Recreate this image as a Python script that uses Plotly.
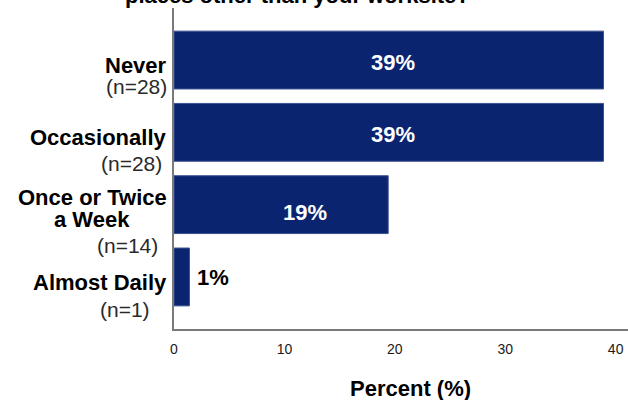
import plotly.graph_objects as go

# ---- data ----
categories = ["Never", "Occasionally", "Once or Twice<br>a Week", "Almost Daily"]
counts = [28, 28, 14, 1]
percents = [38.9, 38.9, 19.4, 1.4]
pct_labels = ["39%", "39%", "19%", "1%"]
x_ticks = [0, 10, 20, 30, 40]
title_text = "places other than your worksite?"
x_title = "Percent (%)"

# ---- style / layout helpers (pixel offsets for label lines) ----
BAR_COLOR = "#0b2470"
FONT = "Liberation Sans, Arial, sans-serif"
L, R, T, B = 174, 0, 8, 71
# per category: list of (x_center_px_from_left_edge, y_offset_px_from_bar_center) per line
line_pos = [
    [(135.5, 4.2), (136.5, 25.5)],
    [(98.3, 3.9), (131.7, 30.0)],
    [(92.0, -7.9), (91.7, 14.2), (127.0, 39.9)],
    [(100.0, 4.4), (125.0, 31.4)],
]
# value label shifts (dx, dy) relative to bar middle; last one placed outside
val_shift = [(4, 1), (4, 1), (24, 7), None]

idx = list(range(len(categories)))

fig = go.Figure()
fig.add_trace(go.Bar(
    x=percents, y=idx, orientation="h",
    marker=dict(color=BAR_COLOR, line=dict(color="#3d5192", width=1)),
    width=0.8, hoverinfo="skip",
))

annotations = []
for i, cat in enumerate(categories):
    lines = [f"<b>{t}</b>" for t in cat.split("<br>")] + [f"(n={counts[i]})"]
    for j, txt in enumerate(lines):
        cx, dy = line_pos[i][j]
        bold = txt.startswith("<b>")
        annotations.append(dict(
            text=txt, xref="x", x=0, yref="y", y=i,
            xanchor="center", yanchor="middle",
            xshift=cx - L, yshift=-dy - 1,
            showarrow=False,
            font=dict(family=FONT, size=22 if bold else 21,
                      color="#000000" if bold else "#2a2a2a"),
        ))
    s = val_shift[i]
    if s is not None:
        annotations.append(dict(
            text=f"<b>{pct_labels[i]}</b>", xref="x", x=percents[i] / 2,
            yref="y", y=i, xanchor="center", yanchor="middle",
            xshift=s[0], yshift=-s[1] - 1, showarrow=False,
            font=dict(family=FONT, size=22, color="white"),
        ))
    else:
        annotations.append(dict(
            text=f"<b>{pct_labels[i]}</b>", xref="x", x=percents[i],
            yref="y", y=i, xanchor="left", yanchor="middle",
            xshift=6, yshift=-1, showarrow=False,
            font=dict(family=FONT, size=22, color="black"),
        ))

# clipped title (only the lower part visible, as in the reference)
annotations.append(dict(
    text=f"<b>{title_text}</b>", xref="x", x=0, xshift=297.5 - L,
    yref="y", y=-0.72, yshift=13, xanchor="center", yanchor="middle",
    showarrow=False,
    font=dict(family=FONT, size=22, color="black"),
))
# x-axis title (offset to the right of plot centre, as in the reference)
annotations.append(dict(
    text=f"<b>{x_title}</b>", xref="x", x=0, xshift=410.8 - L,
    yref="y", y=3.72, yshift=-(387 - 329) - 1, xanchor="center", yanchor="middle",
    showarrow=False,
    font=dict(family=FONT, size=22, color="black"),
))

fig.update_layout(
    width=628, height=400,
    margin=dict(l=L, r=R, t=T, b=B, pad=0, autoexpand=False),
    plot_bgcolor="white", paper_bgcolor="white",
    showlegend=False,
    font=dict(family=FONT),
    annotations=annotations,
    xaxis=dict(
        range=[0, 41.12], tickvals=x_ticks, ticktext=[str(v) for v in x_ticks],
        showgrid=False, zeroline=False, showline=True, linecolor="#7a7a7a",
        linewidth=1.5, ticks="", ticklabelstandoff=6, automargin=False,
        tickfont=dict(family=FONT, size=14, color="#1a1a1a"),
        fixedrange=True,
    ),
    yaxis=dict(
        range=[3.72, -0.72], showticklabels=False, showgrid=False,
        zeroline=False, showline=True, linecolor="#7a7a7a", linewidth=1.5,
        ticks="", fixedrange=True, automargin=False,
    ),
)

fig.write_html(
    "out.html",
    config={"displayModeBar": False},
    post_script="document.body.style.margin='0';document.body.style.overflow='hidden';",
)
